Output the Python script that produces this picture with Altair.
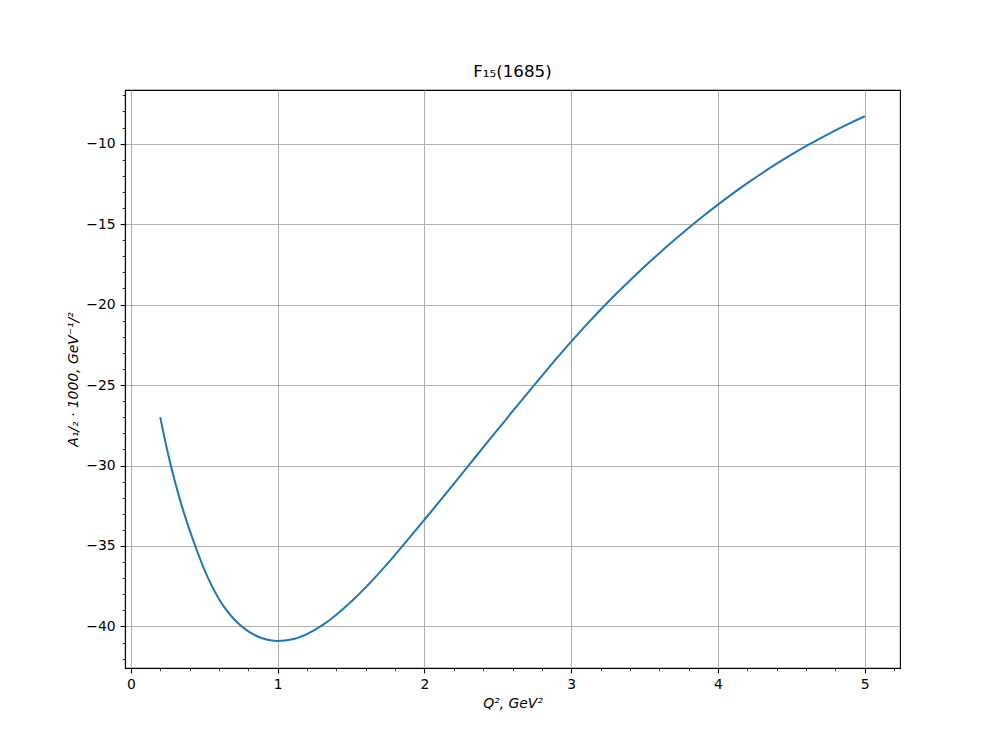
import altair as alt
import pandas as pd

# Q^2 values (GeV^2) and A_1/2 * 1000 values
q2 = [0.2, 0.25, 0.3, 0.35, 0.4, 0.45, 0.5, 0.55, 0.6, 0.65, 0.7, 0.75, 0.8, 0.85,
      0.9, 0.95, 1.0, 1.1, 1.2, 1.3, 1.4, 1.5, 1.6, 1.7, 1.8, 1.9, 2.0,
      2.1, 2.2, 2.3, 2.4, 2.5, 2.6, 2.7, 2.8, 2.9, 3.0, 3.1, 3.2, 3.3, 3.4, 3.5,
      3.6, 3.7, 3.8, 3.9, 4.0, 4.1, 4.2, 4.3, 4.4, 4.5, 4.6, 4.7, 4.8, 4.9, 5.0]
a12 = [-27.0, -29.15, -31.0, -32.6, -34.0, -35.28, -36.45, -37.45, -38.29, -38.97,
       -39.52, -39.96, -40.3, -40.56, -40.75, -40.86, -40.9, -40.8, -40.47, -39.95,
       -39.27, -38.47, -37.57, -36.59, -35.55, -34.47, -33.37, -32.26, -31.14,
       -30.01, -28.88, -27.76, -26.64, -25.53, -24.43, -23.35, -22.3, -21.29,
       -20.32, -19.39, -18.5, -17.64, -16.81, -16.01, -15.24, -14.5, -13.79,
       -13.11, -12.46, -11.84, -11.25, -10.69, -10.16, -9.66, -9.18, -8.73, -8.3]

x_ticks = [round(i * 0.2, 1) for i in range(0, 27)]      # majors 0..5, minors every 0.2
y_ticks = list(range(-42, -6))                           # majors every 5, minors every 1
x_domain = [-0.04, 5.24]
y_domain = [-42.58, -6.67]

df = pd.DataFrame({"q2": q2, "a": a12})

FONT = "DejaVu Sans"
x_major = "abs(datum.value - round(datum.value)) < 1e-6"
y_major = "datum.value % 5 === 0"

chart = alt.Chart(df).mark_line(
    color="#1f77b4", strokeWidth=2.0, interpolate="monotone"
).encode(
    x=alt.X("q2:Q",
            scale=alt.Scale(domain=x_domain, nice=False, zero=False),
            axis=alt.Axis(
                values=x_ticks,
                title="Q², GeV²",
                titleFontStyle="italic",
                labelExpr=f"({x_major}) ? format(datum.value, 'd') : ''",
                tickSize={"condition": {"test": x_major, "value": 4.9}, "value": 2.8},
                tickWidth={"condition": {"test": x_major, "value": 1.1}, "value": 0.8},
                gridOpacity={"condition": {"test": x_major, "value": 1}, "value": 0},
            )),
    y=alt.Y("a:Q",
            scale=alt.Scale(domain=y_domain, nice=False, zero=False),
            axis=alt.Axis(
                values=y_ticks,
                title="A₁/₂ · 1000, GeV⁻¹/²",
                titleFontStyle="italic",
                labelExpr=f"({y_major}) ? format(datum.value, 'd') : ''",
                tickSize={"condition": {"test": y_major, "value": 4.9}, "value": 2.8},
                tickWidth={"condition": {"test": y_major, "value": 1.1}, "value": 0.8},
                gridOpacity={"condition": {"test": y_major, "value": 1}, "value": 0},
            )),
).properties(
    width=775,
    height=578,
    background="white",
    title=alt.TitleParams("F₁₅(1685)", fontSize=16.7, fontWeight="normal",
                          font=FONT, color="black", offset=8, anchor="middle"),
    autosize=alt.AutoSizeParams(type="none"),
    padding={"left": 117, "top": 82, "right": 60, "bottom": 70},
).configure_view(
    stroke="black", strokeWidth=1.1
).configure_axis(
    grid=True,
    gridColor="#b0b0b0",
    gridWidth=1.1,
    domainColor="black",
    domainWidth=1.1,
    tickColor="black",
    labelFont=FONT,
    labelFontSize=13.9,
    labelColor="black",
    labelPadding=4.9,
    labelOverlap=False,
    labelFlush=False,
    titleFont=FONT,
    titleFontSize=13.9,
    titleFontWeight="normal",
    titleColor="black",
    titlePadding=5,
)

chart.save("out.html", embed_options={"renderer": "svg", "actions": False})
